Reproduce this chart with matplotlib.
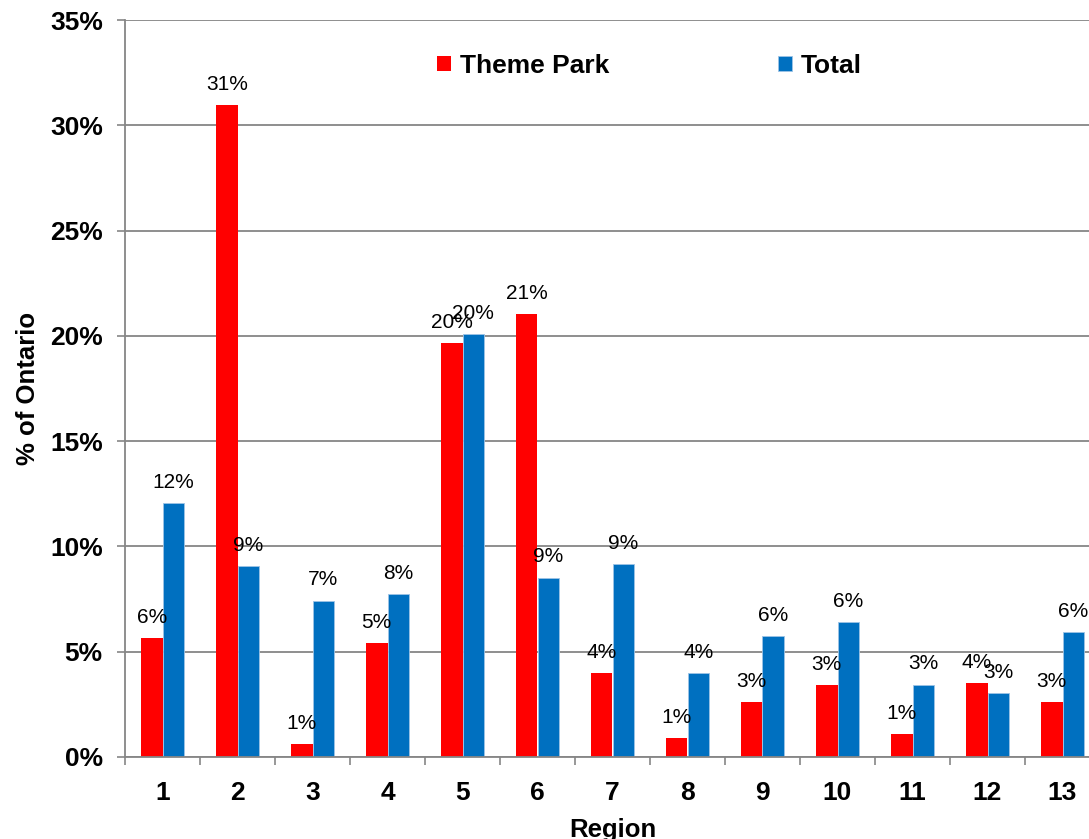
import numpy as np
import matplotlib.pyplot as plt

plt.rcParams['font.family'] = ['Liberation Sans', 'DejaVu Sans']

regions = ['1', '2', '3', '4', '5', '6', '7', '8', '9', '10', '11', '12', '13']
theme_park = [5.65, 30.96, 0.60, 5.40, 19.67, 21.05, 3.97, 0.90, 2.59, 3.40, 1.11, 3.52, 2.60]
total = [12.06, 9.05, 7.43, 7.73, 20.10, 8.52, 9.18, 4.00, 5.73, 6.41, 3.44, 3.04, 5.93]
yticks = [0, 5, 10, 15, 20, 25, 30, 35]

grey = '#868686'

fig = plt.figure(figsize=(10.89, 8.39), dpi=100)
ax = fig.add_axes([125/1089, 82/839, 975/1089, 737/839])

x = np.arange(len(regions))
w = 0.287
b1 = ax.bar(x - w/2, theme_park, w, color='#FF0000', label='Theme Park')
b2 = ax.bar(x + w/2, total, w, color='#0070C0', edgecolor='#9DC3E6',
            linewidth=0.6, label='Total')

# value labels above each bar
for bars, vals in ((b1, theme_park), (b2, total)):
    for r, v in zip(bars, vals):
        ax.annotate(f'{v:.0f}%', (r.get_x() + r.get_width()/2, v),
                    xytext=(0, 8), textcoords='offset points',
                    ha='center', va='bottom', fontsize=15)

ax.set_xlim(-0.5, len(regions) - 0.5)
ax.set_ylim(0, 35)
ax.set_yticks(yticks)
ax.set_yticklabels([f'{t}%' for t in yticks], fontsize=19, fontweight='bold')
ax.set_xticks(x)
ax.set_xticklabels(regions, fontsize=19, fontweight='bold')
ax.set_xticks(np.arange(len(regions) + 1) - 0.5, minor=True)

ax.tick_params(axis='x', which='major', length=0, pad=17)
ax.tick_params(axis='x', which='minor', length=6, width=1.2, color=grey)
ax.tick_params(axis='y', length=6, width=1.2, color=grey, pad=10)

ax.grid(axis='y', color=grey, linewidth=1.3)
ax.set_axisbelow(True)
for s in ('top', 'right'):
    ax.spines[s].set_visible(False)
for s in ('left', 'bottom'):
    ax.spines[s].set_color(grey)
    ax.spines[s].set_linewidth(1.3)

ax.set_ylabel('% of Ontario', fontsize=18.5, fontweight='bold', labelpad=7)
ax.set_xlabel('Region', fontsize=18.5, fontweight='bold', labelpad=10)

ax.legend(loc='center', bbox_to_anchor=(649.5/1089, 1 - 66/839),
          bbox_transform=fig.transFigure, ncol=2, frameon=False,
          prop={'size': 19, 'weight': 'bold'}, handlelength=0.53,
          handleheight=0.53, handletextpad=0.34, columnspacing=6.4,
          borderpad=0)

fig.savefig('out.png', dpi=100)
